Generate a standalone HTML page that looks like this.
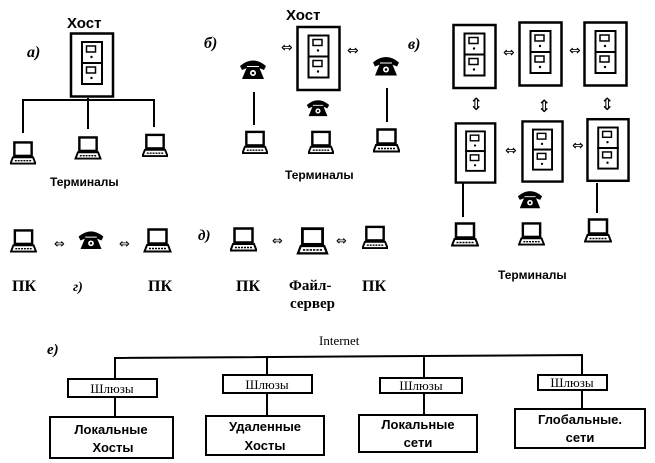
<!DOCTYPE html>
<html><head><meta charset="utf-8"><style>
html,body{margin:0;padding:0;background:#fff}
svg{display:block}
.s{font-family:"Liberation Sans",sans-serif;font-weight:bold;fill:#000}
.r{font-family:"Liberation Serif",serif;fill:#000}
.a{font-family:"DejaVu Sans",sans-serif;fill:#000}
</style></head><body>
<svg width="655" height="463" viewBox="0 0 655 463" xmlns="http://www.w3.org/2000/svg">
<defs>
<symbol id="lap" viewBox="0 0 27 25">
<rect x="4.5" y="1.5" width="18" height="14" fill="#fff" stroke="#000" stroke-width="2.5"/>
<path d="M3 17 L24 17 L26.5 23.5 L0.5 23.5 Z" fill="#fff" stroke="#000" stroke-width="2"/>
<line x1="5" y1="20.5" x2="22" y2="20.5" stroke="#000" stroke-width="1.5" stroke-dasharray="2 1"/>
</symbol>
<symbol id="ph" viewBox="0 0 28 22">
<path d="M1 8 Q14 -3 27 8 L25 12 L20 10 L20 8 L8 8 L8 10 L3 12 Z" fill="#000"/>
<path d="M8 9 L20 9 L25 21 L3 21 Z" fill="#000"/>
<circle cx="14" cy="15" r="3" fill="#fff"/><circle cx="14" cy="15" r="1.3" fill="#000"/>
</symbol>
<symbol id="host" viewBox="0 0 45 66">
<rect x="1.5" y="1.5" width="42" height="63" fill="#fff" stroke="#000" stroke-width="2.5"/>
<rect x="12.5" y="10" width="20" height="21" fill="#fff" stroke="#000" stroke-width="2"/>
<rect x="12.5" y="31" width="20" height="21" fill="#fff" stroke="#000" stroke-width="2"/>
<rect x="17" y="14" width="9" height="6" fill="none" stroke="#000" stroke-width="1.5"/>
<rect x="17" y="35" width="9" height="6" fill="none" stroke="#000" stroke-width="1.5"/>
<circle cx="22" cy="25" r="1.2"/><circle cx="22" cy="46" r="1.2"/>
</symbol>
</defs>

<!-- a -->
<text class="s" x="67" y="28" font-size="15">Хост</text>
<text class="r" x="27" y="57" font-size="16" font-style="italic" font-weight="bold">а)</text>
<use href="#host" x="69" y="32" width="46" height="66"/>
<g stroke="#000" stroke-width="2" fill="none">
<polyline points="23,133 23,100 154,100 154,127"/>
<line x1="88" y1="98" x2="88" y2="129"/>
</g>
<use href="#lap" x="10" y="141" width="26" height="24"/>
<use href="#lap" x="74" y="136" width="28" height="24"/>
<use href="#lap" x="142" y="133" width="26" height="25"/>
<text class="s" x="50" y="186" font-size="12">Терминалы</text>

<!-- b -->
<text class="s" x="286" y="20" font-size="15">Хост</text>
<text class="r" x="204" y="48" font-size="16" font-style="italic" font-weight="bold">б)</text>
<use href="#host" x="296" y="25" width="45" height="67"/>
<use href="#ph" x="239" y="58" width="28" height="22"/>
<use href="#ph" x="306" y="97" width="24" height="21"/>
<use href="#ph" x="372" y="54" width="28" height="23"/>
<text class="a" x="281" y="52" font-size="14">⇔</text>
<text class="a" x="347" y="55" font-size="14">⇔</text>
<line x1="254" y1="92" x2="254" y2="125" stroke="#000" stroke-width="2"/>
<line x1="387" y1="88" x2="387" y2="122" stroke="#000" stroke-width="2"/>
<use href="#lap" x="242" y="130" width="26" height="25"/>
<use href="#lap" x="308" y="130" width="26" height="25"/>
<use href="#lap" x="373" y="128" width="27" height="25"/>
<text class="s" x="285" y="179" font-size="12">Терминалы</text>
<text class="r" x="408" y="49" font-size="16" font-style="italic" font-weight="bold">в)</text>

<!-- v -->
<use href="#host" x="452" y="23" width="45" height="67"/>
<use href="#host" x="518" y="21" width="45" height="66"/>
<use href="#host" x="583" y="21" width="45" height="66"/>
<use href="#host" x="453" y="122" width="45" height="62"/>
<use href="#host" x="520" y="120" width="45" height="63"/>
<use href="#host" x="586" y="117" width="44" height="66"/>
<text class="a" x="503" y="57" font-size="14">⇔</text>
<text class="a" x="569" y="55" font-size="14">⇔</text>
<text class="a" x="505" y="155" font-size="14">⇔</text>
<text class="a" x="572" y="150" font-size="14">⇔</text>
<text class="a" x="469" y="110" font-size="17">⇕</text>
<text class="a" x="537" y="112" font-size="17">⇕</text>
<text class="a" x="600" y="110" font-size="17">⇕</text>
<use href="#ph" x="517" y="188" width="26" height="22"/>
<line x1="463" y1="183" x2="463" y2="217" stroke="#000" stroke-width="2"/>
<line x1="597" y1="183" x2="597" y2="213" stroke="#000" stroke-width="2"/>
<use href="#lap" x="451" y="222" width="28" height="25"/>
<use href="#lap" x="518" y="222" width="27" height="24"/>
<use href="#lap" x="584" y="218" width="28" height="25"/>
<text class="s" x="498" y="279" font-size="12">Терминалы</text>

<!-- g -->
<use href="#lap" x="10" y="229" width="27" height="24"/>
<use href="#ph" x="76" y="229" width="30" height="21"/>
<use href="#lap" x="143" y="228" width="29" height="25"/>
<text class="a" x="54" y="248" font-size="13">⇔</text>
<text class="a" x="119" y="248" font-size="13">⇔</text>
<text class="r" x="12" y="291" font-size="16" font-weight="bold">ПК</text>
<text class="r" x="73" y="291" font-size="14" font-style="italic" font-weight="bold">г)</text>
<text class="r" x="148" y="291" font-size="16" font-weight="bold">ПК</text>

<!-- d -->
<text class="r" x="198" y="240" font-size="15" font-style="italic" font-weight="bold">д)</text>
<use href="#lap" x="230" y="227" width="27" height="25"/>
<use href="#lap" x="295" y="227" width="35" height="28"/>
<use href="#lap" x="362" y="225" width="26" height="25"/>
<text class="a" x="272" y="245" font-size="13">⇔</text>
<text class="a" x="336" y="245" font-size="13">⇔</text>
<text class="r" x="236" y="291" font-size="16" font-weight="bold">ПК</text>
<text class="r" x="289" y="290" font-size="15" font-weight="bold">Файл-</text>
<text class="r" x="290" y="308" font-size="15" font-weight="bold">сервер</text>
<text class="r" x="362" y="291" font-size="16" font-weight="bold">ПК</text>

<!-- e -->
<text class="r" x="47" y="354" font-size="15" font-style="italic" font-weight="bold">е)</text>
<text class="r" x="319" y="345" font-size="13">Internet</text>
<g stroke="#000" stroke-width="2" fill="none">
<polyline points="115,379 115,358 582,355 582,375"/>
<line x1="267" y1="357" x2="267" y2="375"/>
<line x1="424" y1="356" x2="424" y2="378"/>
<line x1="115" y1="397" x2="115" y2="417"/>
<line x1="267" y1="393" x2="267" y2="416"/>
<line x1="424" y1="393" x2="424" y2="415"/>
<line x1="582" y1="390" x2="582" y2="409"/>
<rect x="68" y="379" width="89" height="18"/>
<rect x="223" y="375" width="89" height="18"/>
<rect x="380" y="378" width="82" height="15"/>
<rect x="538" y="375" width="69" height="15"/>
<rect x="50" y="417" width="123" height="41"/>
<rect x="206" y="416" width="118" height="39"/>
<rect x="359" y="415" width="118" height="37"/>
<rect x="515" y="409" width="130" height="39"/>
</g>
<g class="r" font-size="13" text-anchor="middle">
<text x="112" y="393">Шлюзы</text>
<text x="267" y="389">Шлюзы</text>
<text x="421" y="390">Шлюзы</text>
<text x="572" y="387">Шлюзы</text>
</g>
<g class="s" font-size="13" font-weight="normal" text-anchor="middle">
<text x="111" y="434">Локальные</text>
<text x="113" y="452">Хосты</text>
<text x="265" y="431">Удаленные</text>
<text x="265" y="450">Хосты</text>
<text x="418" y="429">Локальные</text>
<text x="418" y="447">сети</text>
<text x="580" y="424">Глобальные.</text>
<text x="580" y="442">сети</text>
</g>
</svg>
</body></html>
